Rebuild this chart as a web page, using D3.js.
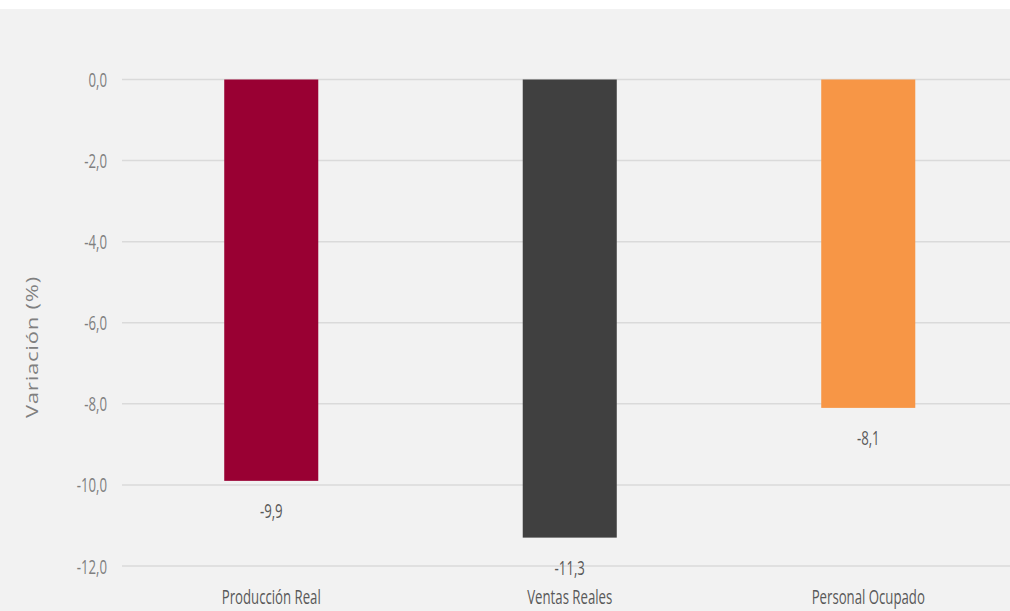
<!DOCTYPE html>
<html><head><meta charset="utf-8">
<script src="https://cdn.jsdelivr.net/npm/d3@7"></script>
<style>
html,body{margin:0;padding:0;background:#fff;}
svg{display:block;}
text{font-family:"Open Sans","Noto Sans",sans-serif;}
</style>
</head><body>
<svg id="c" width="1010" height="611"></svg>
<script>
const categories = ["Producción Real", "Ventas Reales", "Personal Ocupado"];
const values = [-9.9, -11.3, -8.1];
const colors = ["#990033", "#404040", "#f79646"];
const yTicks = [0, -2, -4, -6, -8, -10, -12];
const yTitle = "Variación (%)";

const W = 1010, H = 611;
const SX = 0.66; // horizontal squeeze of the reference glyphs
const svg = d3.select("#c");
svg.append("rect").attr("x",0).attr("y",9).attr("width",W).attr("height",H-9).attr("fill","#f2f2f2");

const x = d3.scaleBand().domain(categories).range([122, 1017.5]).paddingInner(0.685).paddingOuter(0.3425);
const y = d3.scaleLinear().domain([0, -12]).range([79.5, 566]);
const fmt = v => d3.format(".1f")(v).replace(".", ",").replace("−","-");

// gridlines
svg.append("g").selectAll("line").data(yTicks).join("line")
  .attr("x1",122).attr("x2",W).attr("y1",d=>y(d)).attr("y2",d=>y(d))
  .attr("stroke","#dadada").attr("stroke-width",1.5);

// y axis labels
const yAxis = d3.axisLeft(y).tickValues(yTicks).tickSize(0).tickPadding(0).tickFormat(fmt);
const ga = svg.append("g").attr("transform","translate(107,0)").call(yAxis);
ga.attr("font-family",null).attr("font-size",null);
ga.select(".domain").remove();
ga.selectAll("text").attr("x",0).attr("dy","0.35em").attr("font-size",20).attr("fill","#7f7f7f")
  .attr("transform",`scale(${SX},1)`);

// bars
svg.append("g").selectAll("rect").data(values).join("rect")
  .attr("x",(d,i)=>x(categories[i])).attr("width",x.bandwidth())
  .attr("y",y(0)).attr("height",d=>y(d)-y(0))
  .attr("fill",(d,i)=>colors[i]);

// value labels
svg.append("g").selectAll("text").data(values).join("text")
  .attr("transform",(d,i)=>`translate(${x(categories[i])+x.bandwidth()/2},${y(d)+37}) scale(${SX},1)`)
  .attr("text-anchor","middle").attr("font-size",20).attr("fill","#595959")
  .text(d=>fmt(d));

// category labels
const xAxis = d3.axisBottom(x).tickSize(0).tickPadding(0);
const gx = svg.append("g").attr("transform","translate(0,604)").call(xAxis);
gx.attr("font-family",null).attr("font-size",null);
gx.select(".domain").remove();
gx.selectAll("text").attr("y",0).attr("dy",0).attr("font-size",20).attr("fill","#595959")
  .attr("transform",`scale(${SX},1)`);

// y title
svg.append("text").attr("transform",`translate(37.5,347) scale(0.78,1) rotate(-90)`)
  .attr("text-anchor","middle")
  .attr("font-size",22).attr("letter-spacing",0.8).attr("fill","#808080").text(yTitle);
</script>
</body></html>
